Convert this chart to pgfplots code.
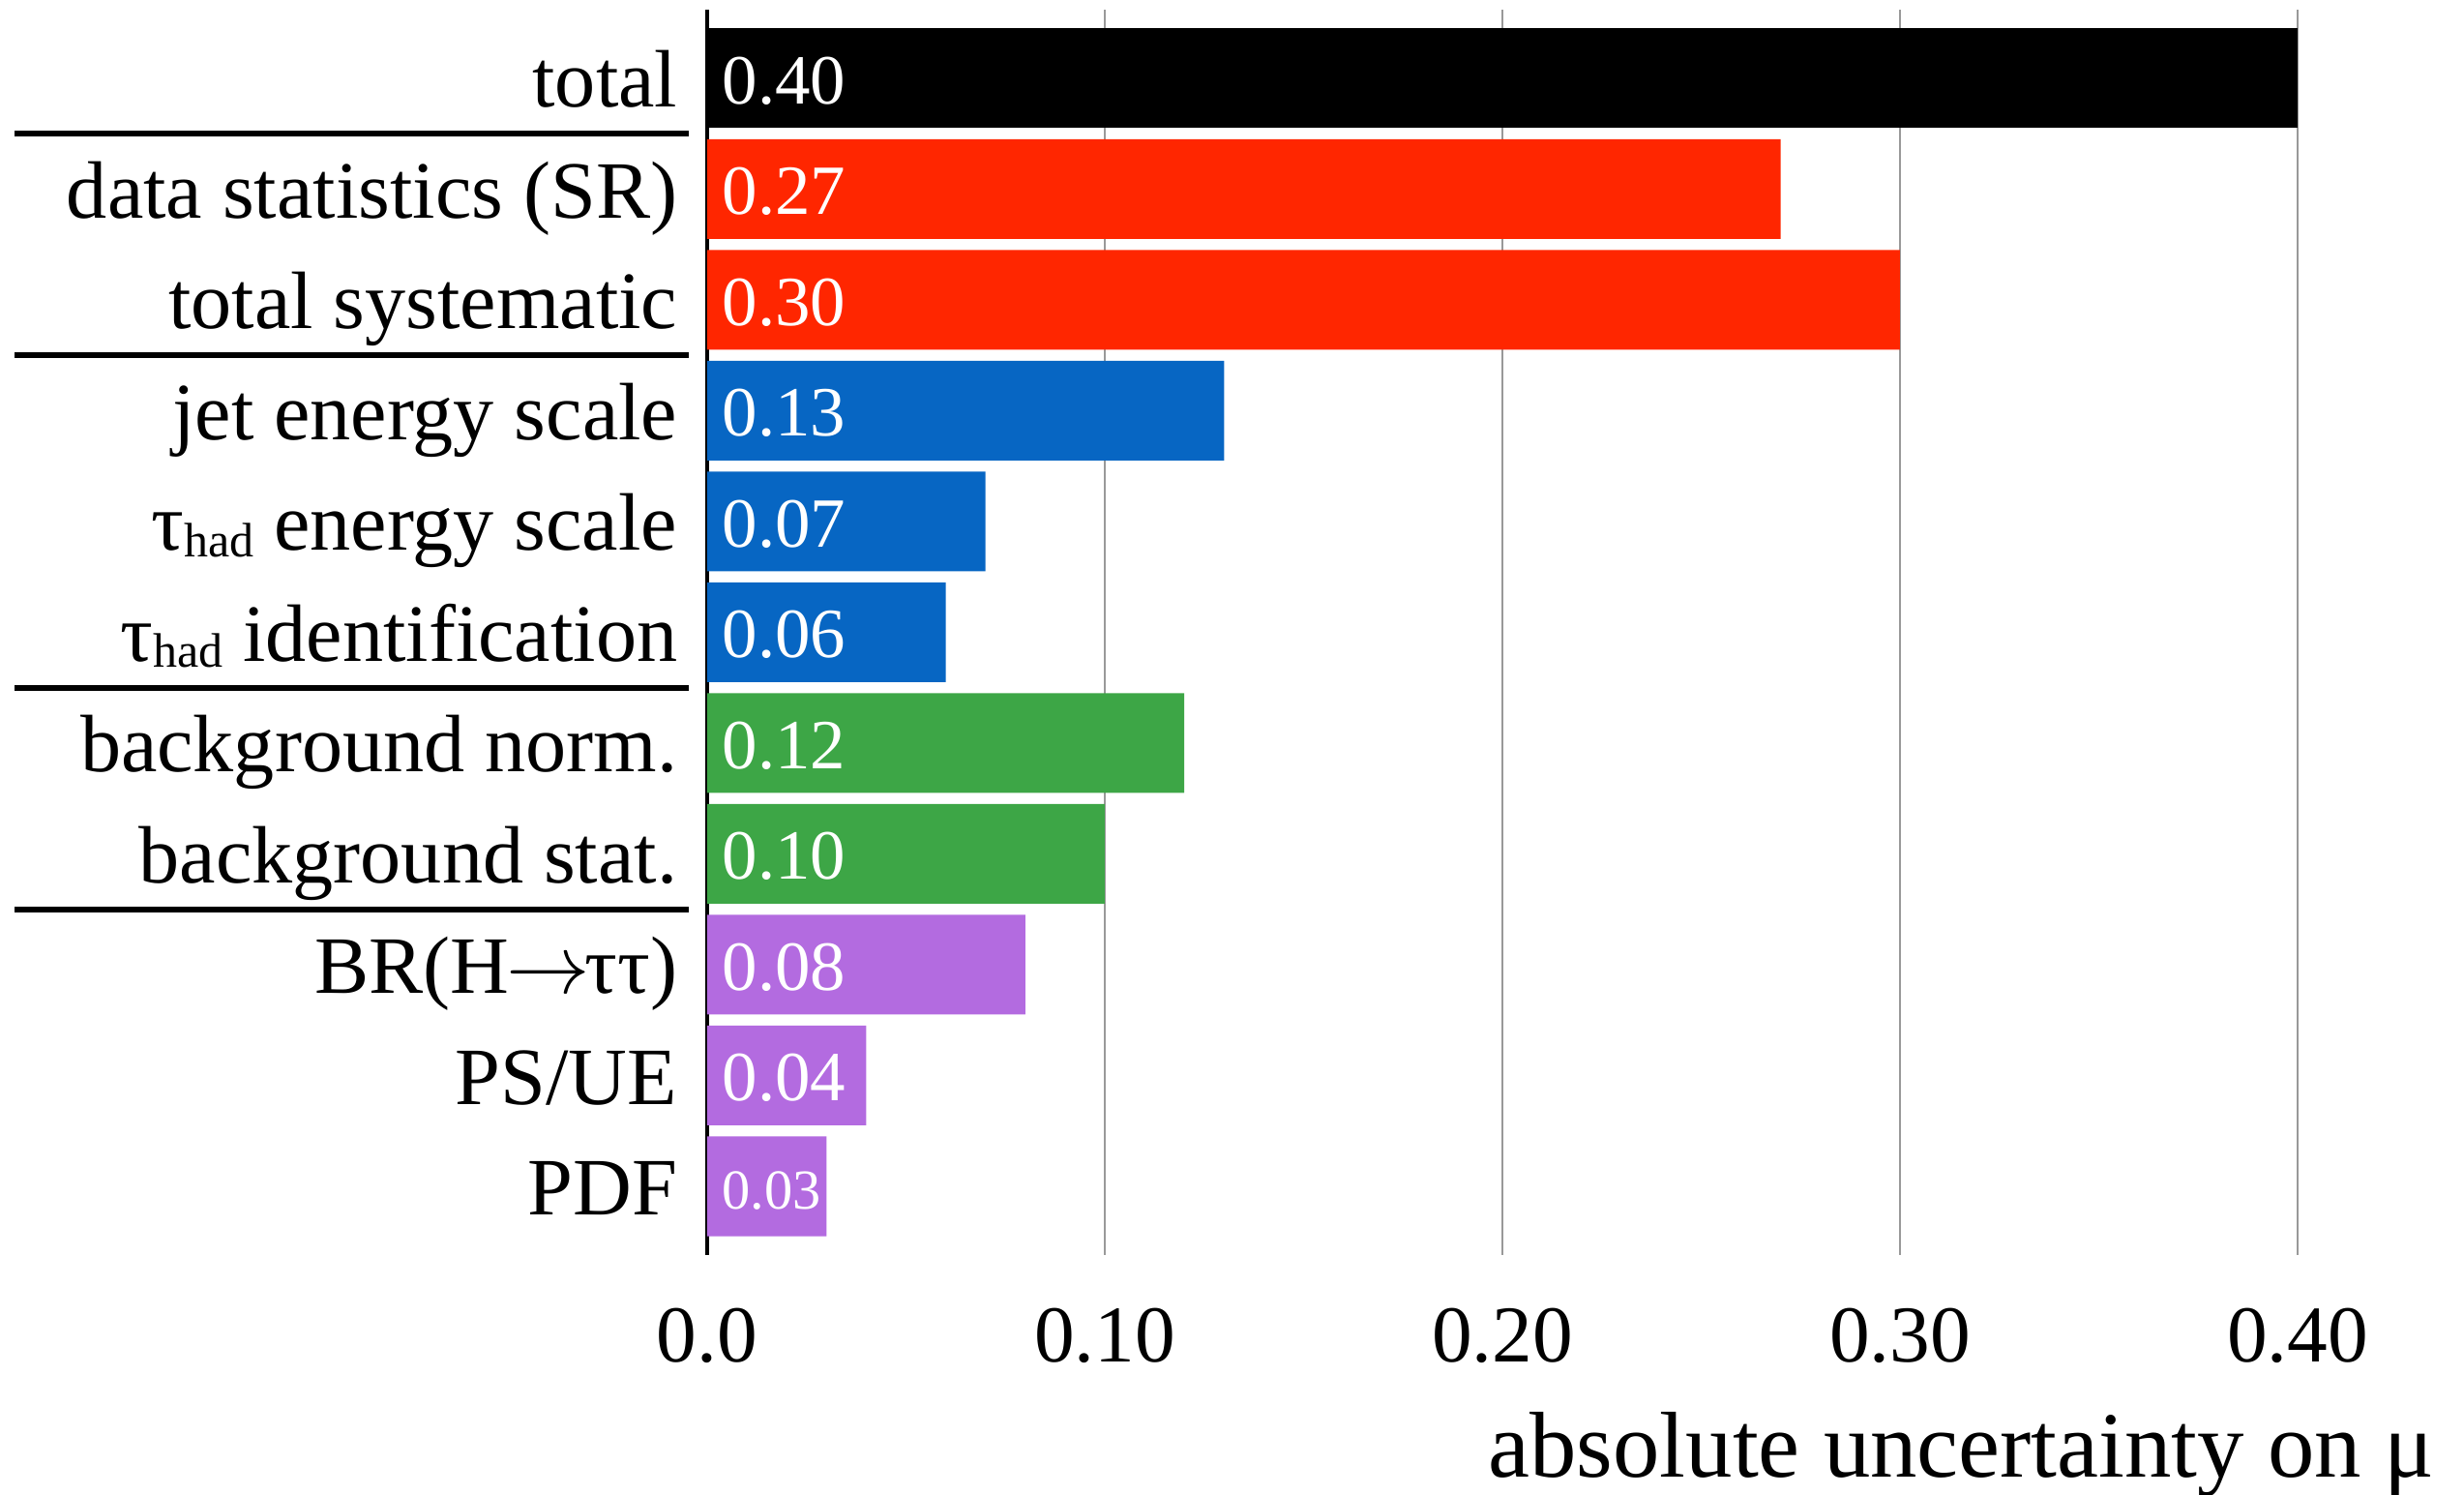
\documentclass[border=0pt]{standalone}
\usepackage{fontspec}
\setmainfont{Liberation Serif}
\usepackage{pgfplots}
\pgfplotsset{compat=1.18}
\definecolor{cred}{HTML}{FF2600}
\definecolor{cblue}{HTML}{0766C3}
\definecolor{cgreen}{HTML}{3DA646}
\definecolor{cpurple}{HTML}{B36BE0}
\newcommand{\tauhad}{τ\raisebox{-1.5pt}{\fontsize{12pt}{12pt}\selectfont had}}
\newcommand{\rarr}{\kern-0.8pt$\rightarrow$\kern-1.2pt}
\begin{document}
\begin{tikzpicture}
\begin{axis}[
  scale only axis,
  width=394.56pt, height=308.9pt,
  xmin=0, xmax=0.4, ymin=-0.62, ymax=10.62,
  clip=false,
  axis y line*=left,
  axis x line*=bottom,
  x axis line style={draw=none},
  y axis line style={black, line width=0.8pt},
  major tick length=0pt,
  xtick={0,0.1,0.2,0.3,0.4},
  xticklabels={0.0,0.10,0.20,0.30,0.40},
  /pgf/number format/assume math mode=true,
  xmajorgrids,
  grid style={draw=black!40, line width=0.5pt},
  ytick={0,1,2,3,4,5,6,7,8,9,10},
  yticklabels={PDF,PS/UE,BR(H\rarr ττ),background stat.,background norm.,\tauhad{} identification,\tauhad{} energy scale,jet energy scale,total systematic,data statistics (SR),total},
  xticklabel style={font=\fontsize{20pt}{24pt}\selectfont, anchor=base, inner sep=0pt, yshift=-26.6pt},
  yticklabel style={font=\fontsize{20.2pt}{24pt}\selectfont, anchor=base east, inner sep=0pt, xshift=-7.2pt, yshift=-7.2pt},
  xlabel={absolute uncertainty on μ},
  xlabel style={font=\fontsize{23.2pt}{27pt}\selectfont, at={(rel axis cs:1,0)}, anchor=base east, inner sep=0pt, xshift=34.2pt, yshift=-55.2pt},
]
\addplot[xbar, bar width=0.9, bar shift=0pt, fill=black, draw=none] coordinates {(0.40,10)};
\addplot[xbar, bar width=0.9, bar shift=0pt, fill=cred, draw=none] coordinates {(0.27,9) (0.30,8)};
\addplot[xbar, bar width=0.9, bar shift=0pt, fill=cblue, draw=none] coordinates {(0.13,7) (0.07,6) (0.06,5)};
\addplot[xbar, bar width=0.9, bar shift=0pt, fill=cgreen, draw=none] coordinates {(0.12,4) (0.10,3)};
\addplot[xbar, bar width=0.9, bar shift=0pt, fill=cpurple, draw=none] coordinates {(0.08,2) (0.04,1) (0.03,0)};
\addplot[draw=none, mark=none, nodes near coords, point meta=explicit symbolic,
  nodes near coords style={white, font=\fontsize{17.5pt}{20pt}\selectfont, anchor=base west, inner sep=0pt, xshift=3.6pt, yshift=-6.3pt}]
  coordinates {(0,10) [0.40] (0,9) [0.27] (0,8) [0.30] (0,7) [0.13] (0,6) [0.07] (0,5) [0.06] (0,4) [0.12] (0,3) [0.10] (0,2) [0.08] (0,1) [0.04] (0,0) [{\raisebox{0.6pt}{\fontsize{14pt}{14pt}\selectfont 0.03}}]};
\coordinate (O) at (rel axis cs:0,0);
\draw[line width=1.4pt, black] ([xshift=-171.8pt]axis cs:0,9.5) -- ([xshift=-4.6pt]axis cs:0,9.5);
\draw[line width=1.4pt, black] ([xshift=-171.8pt]axis cs:0,7.5) -- ([xshift=-4.6pt]axis cs:0,7.5);
\draw[line width=1.4pt, black] ([xshift=-171.8pt]axis cs:0,4.5) -- ([xshift=-4.6pt]axis cs:0,4.5);
\draw[line width=1.4pt, black] ([xshift=-171.8pt]axis cs:0,2.5) -- ([xshift=-4.6pt]axis cs:0,2.5);
\end{axis}
\pgfresetboundingbox
\path (O) ++(-175.44pt,-59.52pt) rectangle ++(611.28pt,370.8pt);
\end{tikzpicture}
\end{document}
